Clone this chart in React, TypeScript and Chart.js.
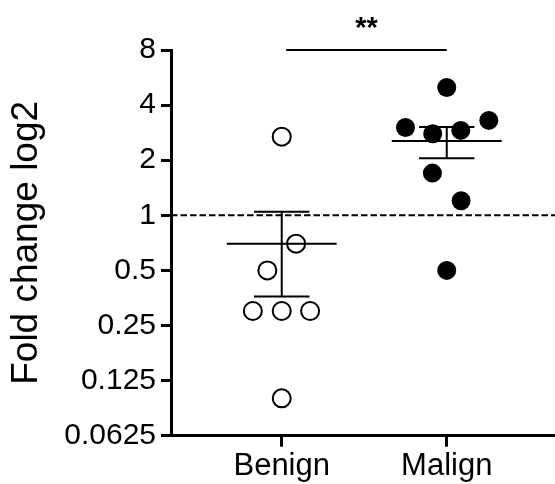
import React, { useEffect, useRef } from "react";
import { Chart, registerables } from "chart.js";

Chart.register(...registerables);

// ---- data ----
const categories = ["Benign", "Malign"];
const benignValues = [2.69, 0.7, 0.5, 0.3, 0.3, 0.3, 0.1];
const benignJitter = [0, 0.087, -0.087, -0.175, 0, 0.172, 0];
const malignValues = [4.99, 3.02, 2.79, 2.91, 3.3, 1.7, 1.2, 0.5];
const malignJitter = [0, -0.25, -0.085, 0.085, 0.255, -0.087, 0.087, 0];
const groupMeans = [0.7, 2.55];
const groupSemLow = [0.36, 2.05];
const groupSemHigh = [1.045, 3.04];
const yTicks = [0.0625, 0.125, 0.25, 0.5, 1, 2, 4, 8];
const yTickLabels = ["0.0625", "0.125", "0.25", "0.5", "1", "2", "4", "8"];
const referenceValue = 1;
const sigFrom = 1.027;
const sigTo = 2;
const sigValue = 8;
const sigLabel = "**";

const X_MIN = 0.329;
const X_MAX = 2.656;
const MEAN_HALF = 0.333;
const CAP_HALF = 0.168;
const FONT = "'Liberation Sans', Arial, Helvetica, sans-serif";

function errorBarData() {
  const pts: any[] = [];
  groupMeans.forEach((m, i) => {
    const c = i + 1;
    pts.push({ x: c - MEAN_HALF, y: m }, { x: c + MEAN_HALF, y: m }, { x: c, y: null });
    pts.push({ x: c, y: groupSemLow[i] }, { x: c, y: groupSemHigh[i] }, { x: c, y: null });
    pts.push({ x: c - CAP_HALF, y: groupSemHigh[i] }, { x: c + CAP_HALF, y: groupSemHigh[i] }, { x: c, y: null });
    pts.push({ x: c - CAP_HALF, y: groupSemLow[i] }, { x: c + CAP_HALF, y: groupSemLow[i] }, { x: c, y: null });
  });
  return pts;
}

const sigTextPlugin = {
  id: "sigText",
  afterDatasetsDraw(chart: any) {
    const { ctx, scales } = chart;
    const x = (scales.x.getPixelForValue(sigFrom) + scales.x.getPixelForValue(sigTo)) / 2;
    const y = scales.y.getPixelForValue(sigValue) - 21;
    ctx.save();
    ctx.fillStyle = "#000";
    ctx.font = `bold 29px ${FONT}`;
    ctx.textAlign = "center";
    ctx.textBaseline = "middle";
    ctx.fillText(sigLabel, x, y);
    ctx.restore();
  },
};

export default function App() {
  const ref = useRef<HTMLCanvasElement | null>(null);
  useEffect(() => {
    if (!ref.current) return;
    const chart = new Chart(ref.current, {
      type: "scatter",
      data: {
        datasets: [
          {
            label: categories[0],
            data: benignValues.map((v, i) => ({ x: 1 + benignJitter[i], y: v })),
            pointRadius: 9,
            pointHoverRadius: 9,
            pointBorderWidth: 2,
            pointBackgroundColor: "rgba(0,0,0,0)",
            pointBorderColor: "#000",
            order: 1,
          } as any,
          {
            label: categories[1],
            data: malignValues.map((v, i) => ({ x: 2 + malignJitter[i], y: v })),
            pointRadius: 9.5,
            pointHoverRadius: 9.5,
            pointBorderWidth: 0,
            pointBackgroundColor: "#000",
            pointBorderColor: "#000",
            order: 1,
          } as any,
          {
            label: "error",
            data: errorBarData(),
            showLine: true,
            spanGaps: false,
            pointRadius: 0,
            borderColor: "#000",
            borderWidth: 2,
            order: 2,
          } as any,
          {
            label: "reference",
            data: [
              { x: X_MIN, y: referenceValue },
              { x: X_MAX, y: referenceValue },
            ],
            showLine: true,
            pointRadius: 0,
            borderColor: "#000",
            borderWidth: 2,
            borderDash: [6.5, 3],
            order: 3,
          } as any,
          {
            label: "sig",
            data: [
              { x: sigFrom, y: sigValue },
              { x: sigTo, y: sigValue },
            ],
            showLine: true,
            pointRadius: 0,
            borderColor: "#000",
            borderWidth: 2,
            clip: false,
            order: 3,
          } as any,
        ],
      },
      options: {
        animation: false,
        responsive: true,
        maintainAspectRatio: false,
        layout: { autoPadding: false, padding: { top: 50, right: 0, bottom: 0, left: 0 } },
        plugins: { legend: { display: false }, tooltip: { enabled: false } },
        scales: {
          x: {
            type: "linear",
            min: X_MIN,
            max: X_MAX,
            afterBuildTicks: (scale: any) => {
              scale.ticks = categories.map((_, i) => ({ value: i + 1 }));
            },
            afterFit: (scale: any) => {
              scale.height = 48.3;
              scale.paddingLeft = 0;
              scale.paddingRight = 0;
            },
            ticks: {
              callback: (v: any) => categories[Math.round(v) - 1],
              color: "#000",
              font: { family: FONT, size: 31 },
              padding: 1,
              maxRotation: 0,
              autoSkip: false,
            },
            grid: {
              drawOnChartArea: false,
              drawTicks: true,
              tickLength: 11,
              tickWidth: 3,
              tickColor: "#000",
            },
            border: { color: "#000", width: 3 },
          },
          y: {
            type: "logarithmic",
            min: 0.0625,
            max: 8,
            afterBuildTicks: (scale: any) => {
              scale.ticks = yTicks.map((v) => ({ value: v }));
            },
            afterFit: (scale: any) => {
              scale.width = 171;
            },
            ticks: {
              callback: (_v: any, i: number) => yTickLabels[i],
              color: "#000",
              font: { family: FONT, size: 30 },
              padding: 5,
              autoSkip: false,
            },
            grid: {
              drawOnChartArea: false,
              drawTicks: true,
              tickLength: 10,
              tickWidth: 3,
              tickColor: "#000",
            },
            border: { color: "#000", width: 3 },
            title: {
              display: true,
              text: "Fold change log2",
              color: "#000",
              font: { family: FONT, size: 37 },
              padding: { top: 5, bottom: 0 },
            },
          },
        },
      },
      plugins: [sigTextPlugin],
    });
    return () => chart.destroy();
  }, []);
  return (
    <div style={{ position: "absolute", left: 0, top: 0, width: 555, height: 484 }}>
      <canvas ref={ref} />
    </div>
  );
}
